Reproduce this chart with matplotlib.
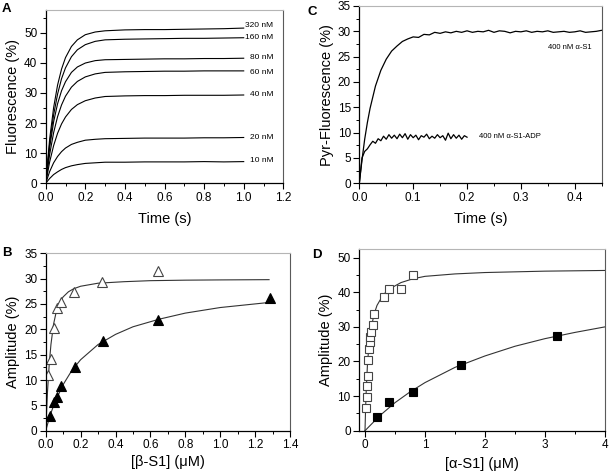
import matplotlib
matplotlib.use('Agg')
import matplotlib.pyplot as plt
from matplotlib.ticker import MultipleLocator

plt.rcParams['font.family'] = ['Liberation Sans', 'DejaVu Sans']

# ---- panel A: transients at different [S1] ----
a_time = [0, 0.02, 0.04, 0.06, 0.08, 0.1, 0.13, 0.16, 0.2, 0.25, 0.3,
          0.4, 0.5, 0.6, 0.7, 0.8, 0.9, 1.0]
a_traces = {
    '320 nM': [0, 14.7, 25.1, 32.6, 37.9, 41.7, 45.4, 47.6, 49.3, 50.2, 50.6,
               50.9, 51.0, 51.0, 51.1, 51.2, 51.3, 51.5],
    '160 nM': [0, 13.2, 22.7, 29.6, 34.7, 38.3, 42.0, 44.3, 46.0, 47.1, 47.6,
               47.8, 47.9, 48.0, 48.1, 48.1, 48.2, 48.3],
    '80 nM': [0, 11.9, 20.4, 26.4, 30.7, 33.7, 36.8, 38.6, 39.9, 40.7, 41.0,
              41.1, 41.2, 41.3, 41.3, 41.4, 41.4, 41.5],
    '60 nM': [0, 9.6, 16.8, 22.1, 26.0, 28.9, 31.9, 33.8, 35.3, 36.3, 36.8,
              37.0, 37.1, 37.2, 37.2, 37.3, 37.3, 37.3],
    '40 nM': [0, 7.1, 12.5, 16.6, 19.7, 22.0, 24.5, 26.1, 27.4, 28.3, 28.8,
              29.0, 29.1, 29.1, 29.2, 29.2, 29.2, 29.3],
    '20 nM': [0, 3.9, 6.8, 8.9, 10.5, 11.7, 12.9, 13.6, 14.3, 14.6, 14.8,
              14.9, 15.0, 15.0, 15.0, 15.1, 15.1, 15.2],
    '10 nM': [0, 1.6, 2.9, 3.8, 4.6, 5.2, 5.8, 6.2, 6.6, 6.8, 7.0,
              7.0, 7.1, 7.1, 7.1, 7.2, 7.1, 7.2],
}
a_label_y = [52.2, 48.5, 41.8, 36.8, 29.5, 15.2, 7.5]

# ---- panel B: amplitude vs [beta-S1] ----
b_open_x = [0.015, 0.028, 0.045, 0.065, 0.085, 0.165, 0.325, 0.645]
b_open_y = [10.9, 14.1, 20.3, 24.3, 25.3, 27.3, 29.4, 31.5]
b_fill_x = [0.025, 0.048, 0.067, 0.088, 0.166, 0.327, 0.644, 1.285]
b_fill_y = [2.9, 5.7, 6.6, 8.9, 12.5, 17.7, 21.8, 26.1]
b_open_fit_x = [0, 0.01, 0.02, 0.03, 0.045, 0.06, 0.08, 0.1, 0.13, 0.16, 0.2,
                0.3, 0.45, 0.6, 0.8, 1.0, 1.28]
b_open_fit_y = [0, 7.5, 13.0, 17.0, 21.0, 23.4, 25.3, 26.4, 27.4, 28.0, 28.5,
                29.1, 29.4, 29.6, 29.7, 29.75, 29.8]
b_fill_fit_x = [0, 0.025, 0.05, 0.1, 0.15, 0.2, 0.3, 0.4, 0.5, 0.65, 0.8, 1.0, 1.28]
b_fill_fit_y = [0, 3.0, 5.4, 9.1, 11.9, 14.0, 17.0, 19.0, 20.5, 22.0, 23.2, 24.3, 25.3]

# ---- panel C: pyrene transients ----
c_s1_t = [0, 0.005, 0.01, 0.015, 0.02, 0.03, 0.04, 0.05, 0.06, 0.07, 0.08, 0.09,
          0.1, 0.11, 0.12, 0.13, 0.14, 0.15, 0.16, 0.17, 0.18, 0.19, 0.2, 0.21,
          0.22, 0.23, 0.24, 0.25, 0.26, 0.27, 0.28, 0.29, 0.3, 0.31, 0.32, 0.33,
          0.34, 0.35, 0.36, 0.37, 0.38, 0.39, 0.4, 0.41, 0.42, 0.43, 0.44, 0.45]
c_s1_y = [0, 4.6, 8.7, 12.0, 14.8, 19.2, 22.3, 24.5, 26.1, 27.1, 28.0, 28.5,
          28.9, 28.8, 29.4, 29.3, 29.8, 29.6, 29.9, 29.7, 30.0, 29.8, 30.1, 29.8,
          30.0, 29.9, 30.2, 29.8, 30.1, 30.0, 29.7, 30.0, 29.9, 30.1, 29.8, 30.0,
          29.9, 30.1, 29.8, 29.9, 30.0, 29.8, 29.9, 30.1, 29.8, 29.9, 30.0, 30.2]
c_adp_t = [0, 0.005, 0.01, 0.015, 0.02, 0.025, 0.03, 0.035, 0.04, 0.045, 0.05,
           0.055, 0.06, 0.065, 0.07, 0.075, 0.08, 0.085, 0.09, 0.095, 0.1,
           0.105, 0.11, 0.115, 0.12, 0.125, 0.13, 0.135, 0.14, 0.145, 0.15,
           0.155, 0.16, 0.165, 0.17, 0.175, 0.18, 0.185, 0.19, 0.195, 0.2]
c_adp_y = [0, 5.0, 6.3, 6.8, 7.6, 8.3, 7.9, 8.8, 8.4, 9.3, 8.7,
           9.6, 8.9, 9.5, 8.8, 9.7, 9.0, 9.8, 8.7, 9.6, 9.0,
           9.5, 8.6, 9.4, 9.1, 9.7, 8.8, 9.3, 8.9, 9.6, 9.0,
           9.4, 8.5, 9.9, 8.8, 9.6, 8.9, 9.5, 8.7, 9.4, 9.1]

# ---- panel D: amplitude vs [alpha-S1] ----
d_open_x = [0.017, 0.028, 0.039, 0.044, 0.056, 0.067, 0.078, 0.089, 0.106,
            0.128, 0.156, 0.317, 0.406, 0.606, 0.806]
d_open_y = [6.7, 9.6, 13.0, 15.8, 20.4, 23.7, 25.7, 27.0, 28.6, 30.5, 33.8,
            38.6, 41.0, 41.0, 45.0]
d_fill_x = [0.2, 0.4, 0.8, 1.6, 3.2]
d_fill_y = [4.0, 8.2, 11.2, 19.1, 27.5]
d_open_fit_x = [0, 0.01, 0.02, 0.04, 0.06, 0.08, 0.1, 0.15, 0.2, 0.3, 0.4,
                0.6, 0.8, 1.0, 1.5, 2, 3, 4]
d_open_fit_y = [0, 6.5, 11.4, 18.8, 23.5, 26.9, 29.4, 33.6, 36.2, 39.2, 40.9,
                42.8, 43.9, 44.6, 45.3, 45.7, 46.1, 46.3]
d_fill_fit_x = [0, 0.25, 0.5, 0.75, 1, 1.5, 2, 2.5, 3, 3.5, 4]
d_fill_fit_y = [0, 4.4, 8.1, 11.2, 13.9, 18.3, 21.6, 24.4, 26.6, 28.4, 30.0]

W, H = 610, 473
fig = plt.figure(figsize=(W / 100, H / 100), dpi=100)


def make_ax(left, top, right, bottom):
    ax = fig.add_axes([left / W, 1 - bottom / H, (right - left) / W, (bottom - top) / H])
    ax.spines['top'].set_color('#b5b5b5')
    ax.spines['right'].set_color('#5a5a5a')
    for s in ['left', 'bottom']:
        ax.spines[s].set_linewidth(0.9)
    ax.tick_params(which='major', length=4, width=0.8, labelsize=8.5, pad=2,
                   top=False, right=False)
    ax.tick_params(which='minor', length=2, width=0.7, top=False, right=False)
    return ax


# A
ax = make_ax(45.7, 10, 283.3, 183.3)
for (name, vals), ly in zip(a_traces.items(), a_label_y):
    ax.plot(a_time, vals, color='black', lw=0.8)
    ax.text(1.15, ly, name, fontsize=6, ha='right', va='center')
ax.set_xlim(0, 1.2)
ax.set_ylim(0, 57.5)
ax.set_yticks([0, 10, 20, 30, 40, 50])
ax.xaxis.set_major_locator(MultipleLocator(0.2))
ax.xaxis.set_minor_locator(MultipleLocator(0.1))
ax.yaxis.set_minor_locator(MultipleLocator(5))
ax.set_xticklabels([f'{v:.1f}' for v in ax.get_xticks()])
ax.set_xlabel('Time (s)', fontsize=10.5, labelpad=6)
ax.set_ylabel('Fluorescence (%)', fontsize=10.5, labelpad=3)

# B
ax = make_ax(45.7, 253.3, 290, 430.7)
ax.plot(b_open_fit_x, b_open_fit_y, color='#333333', lw=0.8)
ax.plot(b_fill_fit_x, b_fill_fit_y, color='#333333', lw=0.8)
ax.plot(b_open_x, b_open_y, '^', ms=6.5, mfc='white', mec='#444444', mew=0.8)
ax.plot(b_fill_x, b_fill_y, '^', ms=6.5, mfc='black', mec='black', mew=0.8)
ax.set_xlim(0, 1.4)
ax.set_ylim(0, 35)
ax.xaxis.set_major_locator(MultipleLocator(0.2))
ax.xaxis.set_minor_locator(MultipleLocator(0.1))
ax.yaxis.set_major_locator(MultipleLocator(5))
ax.yaxis.set_minor_locator(MultipleLocator(2.5))
ax.set_xticklabels([f'{v:.1f}' for v in ax.get_xticks()])
ax.set_xlabel('[β-S1] (μM)', fontsize=10.5, labelpad=3)
ax.set_ylabel('Amplitude (%)', fontsize=10.5, labelpad=3)

# C
ax = make_ax(359.3, 6, 601.7, 183.3)
ax.plot(c_s1_t, c_s1_y, color='black', lw=0.9)
ax.plot(c_adp_t, c_adp_y, color='black', lw=0.9)
ax.text(0.351, 26.8, '400 nM α-S1', fontsize=5.5, ha='left', va='center')
ax.text(0.2216, 9.2, '400 nM α-S1-ADP', fontsize=5.5, ha='left', va='center')
ax.set_xlim(0, 0.45)
ax.set_ylim(0, 35)
ax.xaxis.set_major_locator(MultipleLocator(0.1))
ax.xaxis.set_minor_locator(MultipleLocator(0.05))
ax.yaxis.set_major_locator(MultipleLocator(5))
ax.yaxis.set_minor_locator(MultipleLocator(2.5))
ax.set_xticklabels([f'{v:.1f}' for v in ax.get_xticks()])
ax.set_xlabel('Time (s)', fontsize=10.5, labelpad=6)
ax.set_ylabel('Pyr-Fluorescence (%)', fontsize=10.5, labelpad=3)

# D
ax = make_ax(359, 249, 605, 430.7)
ax.plot(d_open_fit_x, d_open_fit_y, color='#333333', lw=0.8)
ax.plot(d_fill_fit_x, d_fill_fit_y, color='#333333', lw=0.8)
ax.plot(d_open_x, d_open_y, 's', ms=5.5, mfc='white', mec='#444444', mew=0.8)
ax.plot(d_fill_x, d_fill_y, 's', ms=5.5, mfc='black', mec='black', mew=0.8)
ax.set_xlim(-0.1, 4)
ax.set_ylim(0, 52.5)
ax.xaxis.set_major_locator(MultipleLocator(1))
ax.xaxis.set_minor_locator(MultipleLocator(0.5))
ax.yaxis.set_major_locator(MultipleLocator(10))
ax.yaxis.set_minor_locator(MultipleLocator(5))
ax.set_xlabel('[α-S1] (μM)', fontsize=10.5, labelpad=4)
ax.set_ylabel('Amplitude (%)', fontsize=10.5, labelpad=3)

# panel letters
for letter, x, y in [('A', 2, 3), ('B', 2, 247), ('C', 307, 6), ('D', 312, 249)]:
    fig.text(x / W, 1 - y / H, letter, fontsize=9.5, fontweight='bold', ha='left', va='top')

fig.savefig('out.png', dpi=100)
